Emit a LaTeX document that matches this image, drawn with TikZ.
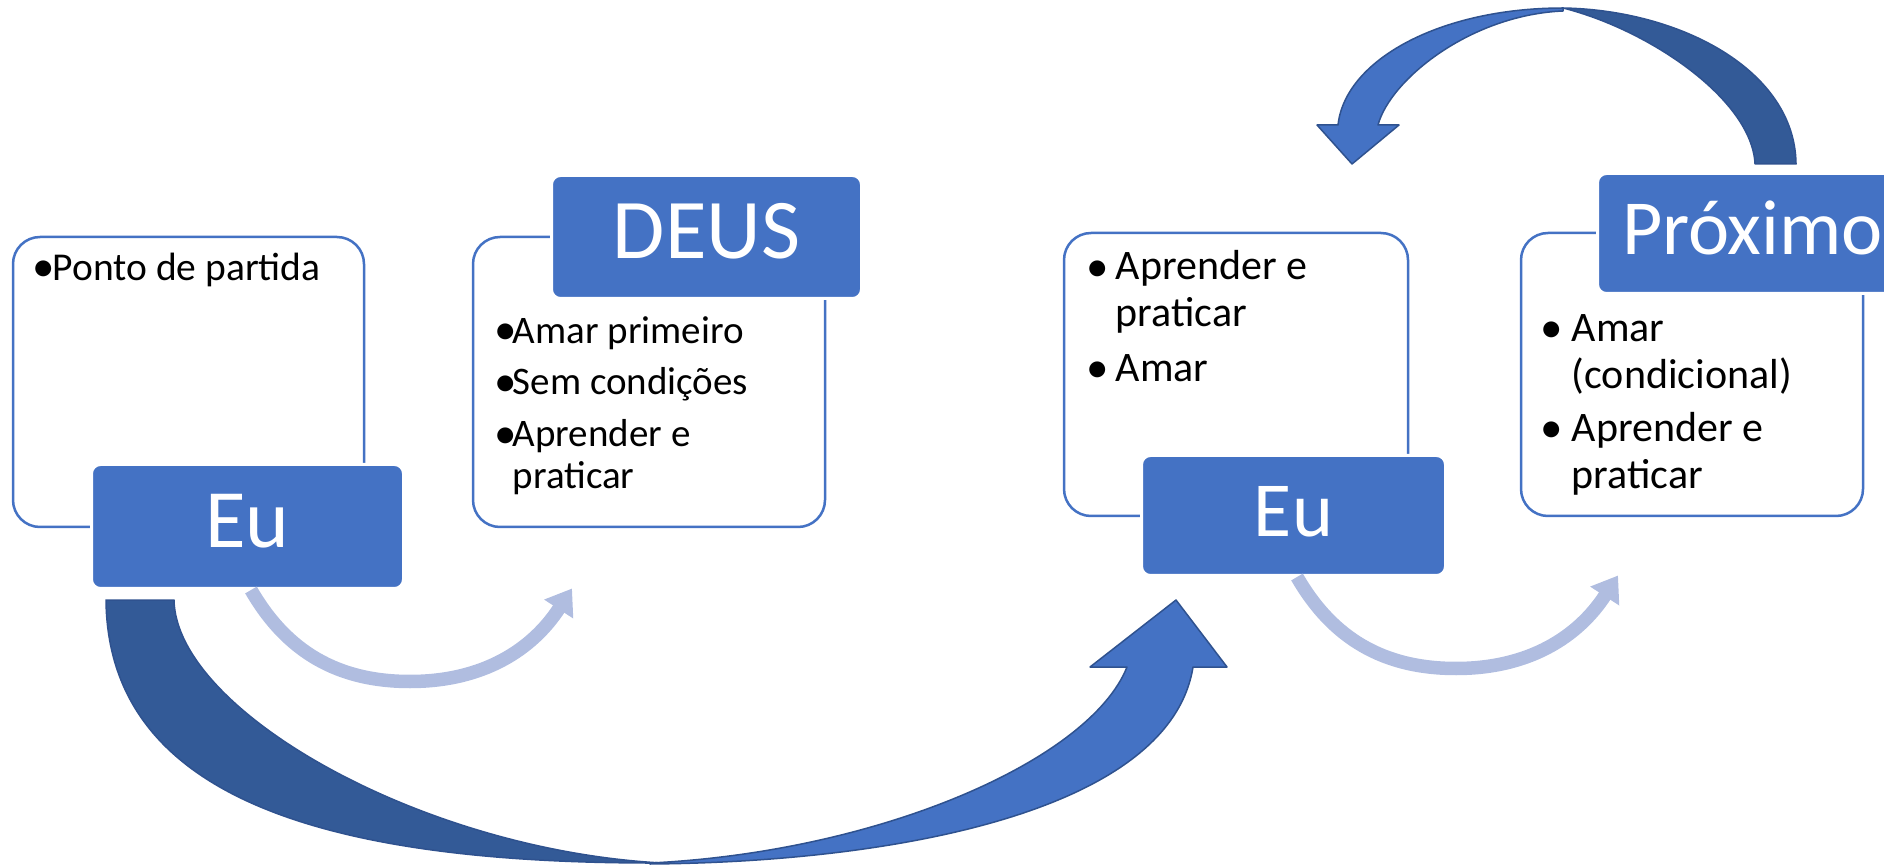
\documentclass[tikz,border=0pt]{standalone}
\usepackage{fontspec}
\setmainfont{Carlito}
\usepackage{xcolor}
\usetikzlibrary{arrows.meta,positioning}

\definecolor{smblue}{RGB}{68,114,196}
\definecolor{smdark}{RGB}{51,90,151}
\definecolor{smedge}{RGB}{47,82,143}
\definecolor{smsoft}{RGB}{176,189,224}
\newcommand{\dotmark}[1]{\makebox[#1][l]{\hspace*{-0.3mm}\fontsize{4.5mm}{5mm}\selectfont\raisebox{-0.1mm}{•}}}

\begin{document}
\begin{tikzpicture}[
  x=0.1mm, y=0.1mm,
  card/.style={draw=smblue, line width=0.25mm, fill=white, rounded corners=2.7mm, inner sep=0pt, outer sep=0pt},
  title/.style={draw=white, line width=0.3mm, fill=smblue, rounded corners=0.9mm, inner sep=0pt, outer sep=0pt, text=white, text height=5.7mm, text depth=1.45mm},
  items/.style={anchor=base west, inner sep=0pt, align=left},
  soft/.style={draw=smsoft, line width=1.35mm, -{Triangle[length=2.45mm, width=3.3mm]}},
  band/.style={draw=smedge, line width=0.15mm, line join=round}
]
\useasboundingbox (0,0) rectangle (1884,865);
\clip (0,0) rectangle (1884,865);
\node[card, minimum width=35.1mm, minimum height=29mm] (start) at (188.5,483) {};
\node[card, minimum width=35.2mm, minimum height=29mm, right=10.9mm of start] (god) {};
\node[card, minimum width=34.4mm, minimum height=28.3mm] (self) at (1236,490.5) {};
\node[card, minimum width=34.2mm, minimum height=28.3mm, right=11.3mm of self] (other) {};
\node[title, minimum width=31.2mm, minimum height=12.4mm, font=\fontsize{8.3mm}{10mm}\selectfont, anchor=south west] (meA) at ([shift={(78.5,-61.5)}]start.south west) {Eu};
\node[title, minimum width=31mm, minimum height=12.3mm, font=\fontsize{8.5mm}{10mm}\selectfont, anchor=north west] (deus) at ([shift={(78.5,61.5)}]god.north west) {DEUS};
\node[title, minimum width=30.4mm, minimum height=12mm, font=\fontsize{7.8mm}{9.5mm}\selectfont, anchor=south west] (meB) at ([shift={(77.5,-59.5)}]self.south west) {Eu};
\node[title, minimum width=31mm, minimum height=12mm, font=\fontsize{7.8mm}{9.5mm}\selectfont, anchor=north west] (prox) at ([shift={(76.5,59.5)}]other.north west) {Próximo};
\node[items, font=\fontsize{3.95mm}{4.1mm}\selectfont] (t1) at ([shift={(22,-44)}]start.north west) {\dotmark{1.7mm}Ponto de partida};
\node[items, font=\fontsize{3.9mm}{4.1mm}\selectfont] (t2) at ([shift={(24,-251)}]god.north west) {\dotmark{1.5mm}Amar primeiro\\[1.1mm] \dotmark{1.5mm}Sem condições\\[1.1mm] \dotmark{1.5mm}Aprender e\\ \hspace*{1.5mm}praticar};
\node[items, font=\fontsize{4.2mm}{4.7mm}\selectfont] (t3) at ([shift={(25,-149)}]self.north west) {\dotmark{2.6mm}Aprender e\\ \hspace*{2.6mm}praticar\\[0.8mm] \dotmark{2.6mm}Amar};
\node[items, font=\fontsize{4.2mm}{4.7mm}\selectfont] (t4) at ([shift={(22,-255)}]other.north west) {\dotmark{2.8mm}Amar\\ \hspace*{2.8mm}(condicional)\\[0.6mm] \dotmark{2.8mm}Aprender e\\ \hspace*{2.8mm}praticar};
\coordinate (tipA) at ([shift={(324.5,0)}]meA.south);
\coordinate (tipB) at ([shift={(324.5,0)}]meB.south);
\draw[soft] ([shift={(3.5,-1.5)}]meA.south) to[out=-60, in=180] ++(159,-91.5) to[out=0, in=237] (tipA);
\draw[soft] ([shift={(3.5,-1.5)}]meB.south) to[out=-60, in=180] ++(159,-91.5) to[out=0, in=237] (tipB);
\filldraw[band, fill=smblue] (650,1) .. controls (900,3) and (1170,55) .. (1193,198) -- (1227,198) -- (1176,265) -- (1090,198) -- (1127,198) .. controls (1090,105) and (880,13) .. (650,2) -- cycle;
\filldraw[band, fill=smdark] (106,265) -- (174,265) .. controls (176,155) and (420,15) .. (662,2) .. controls (330,1) and (108,65) .. (106,265) -- cycle;
\filldraw[band, fill=smblue] (1563,857) .. controls (1440,857) and (1345,805) .. (1338,740) -- (1317,740) -- (1352,701) -- (1399,740) -- (1378,740) .. controls (1390,785) and (1470,850) .. (1563,854) -- cycle;
\filldraw[band, fill=smdark] (1755,701) -- (1796,701) .. controls (1795,795) and (1680,855) .. (1563,857) .. controls (1650,835) and (1752,765) .. (1755,701) -- cycle;
\end{tikzpicture}
\end{document}
